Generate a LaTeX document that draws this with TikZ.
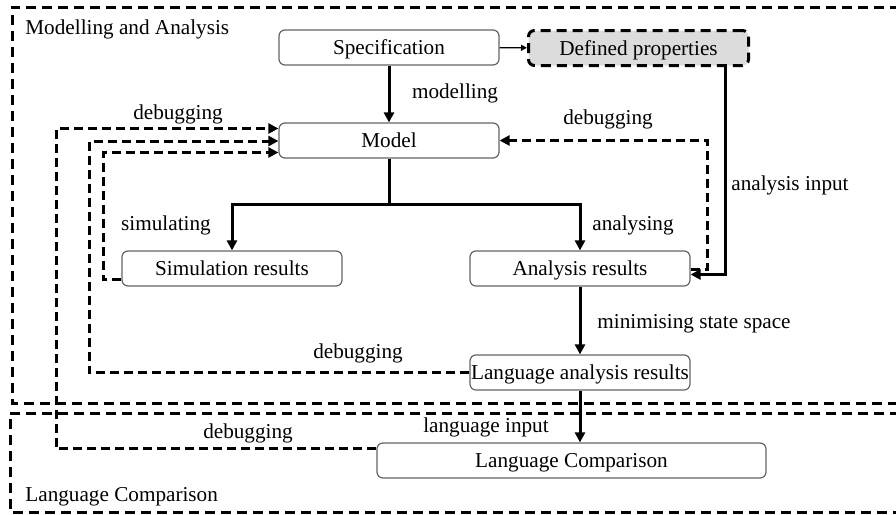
\documentclass[tikz,border=0pt]{standalone}
\usepackage{fontspec}
\setmainfont{Liberation Serif}
\usetikzlibrary{arrows.meta}
\definecolor{propfill}{RGB}{220,220,220}
\definecolor{boxline}{RGB}{100,100,100}
\begin{document}
\begin{tikzpicture}[x=0.5pt,y=-0.5pt,
  txt/.style={font=\fontsize{10.6}{12}\selectfont},
  box/.style={txt, draw=boxline, line width=0.6pt, rounded corners=3pt, minimum width=110pt, minimum height=17.5pt, inner sep=0pt, text height=8pt, text depth=0.8pt},
  lbl/.style={txt, inner sep=0pt},
  flow/.style={line width=1.5pt, -{Triangle[length=5pt,width=5pt]}},
  dbg/.style={line width=1.5pt, dash pattern=on 4.5pt off 2.5pt, -{Triangle[length=5pt,width=5pt]}},
  frame/.style={line width=1.5pt, dash pattern=on 5pt off 3pt}]
\useasboundingbox (0,0) rectangle (896,515);
% frames
\draw[frame] (900,7) -- (12,7) -- (12,403) -- (900,403);
\draw[frame] (900,413) -- (10,413) -- (10,512) -- (900,512);
\node[lbl, anchor=west] (fma) at (25,29) {Modelling and Analysis};
\node[lbl, anchor=west] (flc) at (25,497) {Language Comparison};
% nodes
\node[box] (spec) at (389,47.5) {Specification};
\node[box, draw=black, fill=propfill, line width=1.5pt, dash pattern=on 5pt off 3pt] (def) at (638.5,48) {Defined properties};
\node[box] (model) at (389,140.5) {Model};
\node[box] (sim) at (232,268.5) {Simulation results};
\node[box] (ana) at (580,268.5) {Analysis results};
\node[box] (lar) at (580,372.5) {Language analysis results};
\node[box, minimum width=194.5pt] (lc) at (571.5,460.5) {Language Comparison};
% solid flow
\draw[flow] (spec) -- (model);
\draw[line width=0.6pt, -{Triangle[length=3pt,width=3pt]}] (spec) -- (def);
\coordinate (br) at (389,204);
\draw[line width=1.5pt] (model.south) -- (br);
\draw[flow] (br) -| (sim.north);
\draw[flow] (br) -| (ana.north);
\draw[flow] ([shift={(86.5,0)}]def.south) |- ([shift={(0,6)}]ana.east);
\draw[flow] (ana) -- (lar);
\draw[flow] (lar) -- (lc.north -| lar.south);
% debugging
\draw[dbg] ([shift={(0,0.5)}]ana.east) -- ++(17,0) |- (model.east);
\draw[dbg] ([shift={(0,11)}]sim.west) -- ++(-18,0) |- ([shift={(0,12)}]model.west);
\draw[dbg] (lar.west) -- ++(-380,0) |- ([shift={(0,0.5)}]model.west);
\draw[dbg] ([shift={(0,-12)}]lc.west) -- ++(-320,0) |- ([shift={(0,-12)}]model.west);
% labels
\node[lbl] (l1) at (455,93) {modelling};
\node[lbl] (l2) at (178,114) {debugging};
\node[lbl] (l3) at (608,119) {debugging};
\node[lbl] (l4) at (790,185) {analysis input};
\node[lbl] (l5) at (166,225) {simulating};
\node[lbl] (l6) at (633,225) {analysing};
\node[lbl] (l7) at (694,324) {minimising state space};
\node[lbl] (l8) at (358,353) {debugging};
\node[lbl] (l9) at (248,433) {debugging};
\node[lbl] (l10) at (486,427) {language input};
\end{tikzpicture}
\end{document}
